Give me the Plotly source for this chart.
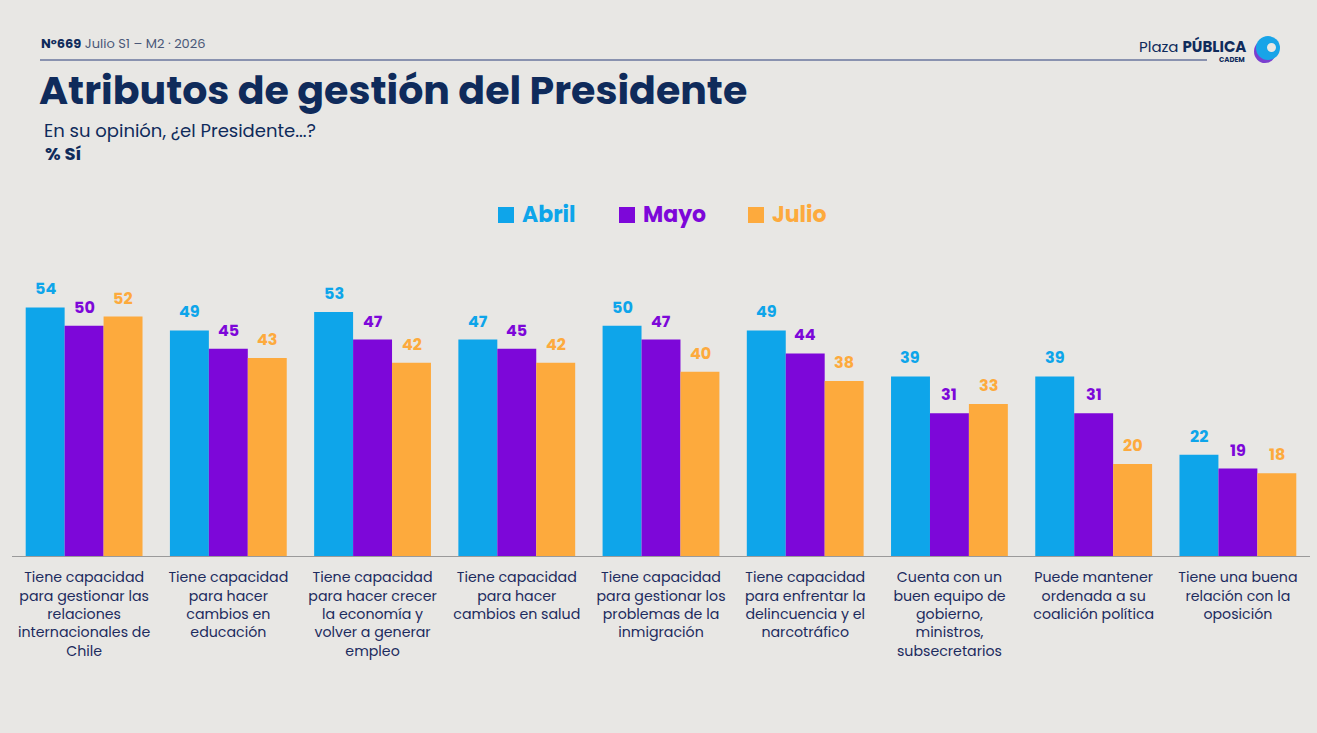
import plotly.graph_objects as go

categories = [
    "Tiene capacidad<br>para gestionar las<br>relaciones<br>internacionales de<br>Chile",
    "Tiene capacidad<br>para hacer<br>cambios en<br>educación",
    "Tiene capacidad<br>para hacer crecer<br>la economía y<br>volver a generar<br>empleo",
    "Tiene capacidad<br>para hacer<br>cambios en salud",
    "Tiene capacidad<br>para gestionar los<br>problemas de la<br>inmigración",
    "Tiene capacidad<br>para enfrentar la<br>delincuencia y el<br>narcotráfico",
    "Cuenta con un<br>buen equipo de<br>gobierno,<br>ministros,<br>subsecretarios",
    "Puede mantener<br>ordenada a su<br>coalición política",
    "Tiene una buena<br>relación con la<br>oposición",
]
series_names = ["Abril", "Mayo", "Julio"]
abril = [54, 49, 53, 47, 50, 49, 39, 39, 22]
mayo = [50, 45, 47, 45, 47, 44, 31, 31, 19]
julio = [52, 43, 42, 42, 40, 38, 33, 20, 18]

colors = ["#0ea5ea", "#7d07d9", "#fdaa3d"]
BG = "#e8e7e4"
NAVY = "#0f2b5b"
FONT = "Poppins, 'Open Sans', sans-serif"

W, H = 1317, 733
L, R, T, B = 12, 7, 277, 177
PW, PH = W - L - R, H - T - B

def px(x):
    return (x - L) / PW

def py(y):
    return (H - B - y) / PH

fig = go.Figure()
for name, vals, col in zip(series_names, [abril, mayo, julio], colors):
    fig.add_trace(go.Bar(x=categories, y=vals, name=name, marker_color=col,
                         marker_line_width=0, showlegend=False))

# value labels above bars
offsets = [-39, 0, 39]
for vals, col, off in zip([abril, mayo, julio], colors, offsets):
    for c, v in zip(categories, vals):
        fig.add_annotation(x=c, y=v, text=f"<b>{v}</b>", showarrow=False,
                           xshift=off, yshift=5, yanchor="bottom",
                           font=dict(family=FONT, size=16, color=col))

# custom legend
leg = [(498, "Abril"), (619, "Mayo"), (748, "Julio")]
for (x0, name), col in zip(leg, colors):
    fig.add_shape(type="rect", xref="paper", yref="paper",
                  x0=px(x0), x1=px(x0 + 16), y0=py(223), y1=py(207),
                  fillcolor=col, line_width=0)
    fig.add_annotation(xref="paper", yref="paper", x=px(x0 + 22), y=py(215),
                       text=f"<b>{name}</b>", showarrow=False, xanchor="left",
                       yanchor="middle", font=dict(family=FONT, size=22, color=col))

# header
fig.add_shape(type="line", xref="paper", yref="paper", x0=px(40), x1=px(1207),
              y0=py(60), y1=py(60), line=dict(color="#2a3f7a", width=1.2))
fig.add_annotation(xref="paper", yref="paper", x=px(39), y=py(43),
                   text="<b>N°669</b><span style='color:#4a5878'> Julio S1 – M2 · 2026</span>",
                   showarrow=False, xanchor="left", yanchor="middle",
                   font=dict(family=FONT, size=13, color=NAVY))
fig.add_annotation(xref="paper", yref="paper", x=px(38), y=py(90),
                   text="<b>Atributos de gestión del Presidente</b>", showarrow=False,
                   xanchor="left", yanchor="middle", borderpad=0,
                   font=dict(family=FONT, size=39.5, color=NAVY))
fig.add_annotation(xref="paper", yref="paper", x=px(43), y=py(130),
                   text="En su opinión, ¿el Presidente...?", showarrow=False,
                   xanchor="left", yanchor="middle", borderpad=0,
                   font=dict(family=FONT, size=18, color=NAVY))
fig.add_annotation(xref="paper", yref="paper", x=px(43), y=py(153),
                   text="<b>% Sí</b>", showarrow=False,
                   xanchor="left", yanchor="middle",
                   font=dict(family=FONT, size=18, color=NAVY))

# logo
fig.add_annotation(xref="paper", yref="paper", x=px(1247), y=py(46),
                   text="Plaza <b>PÚBLICA</b>", showarrow=False,
                   xanchor="right", yanchor="middle", borderpad=0,
                   font=dict(family=FONT, size=15, color=NAVY))
fig.add_annotation(xref="paper", yref="paper", x=px(1246), y=py(59),
                   text="<b>CADEM</b>", showarrow=False,
                   xanchor="right", yanchor="middle", borderpad=0,
                   font=dict(family=FONT, size=7, color=NAVY))
fig.add_shape(type="circle", xref="paper", yref="paper",
              x0=px(1254), x1=px(1276), y0=py(63), y1=py(40),
              fillcolor="#7a3fcf", line_width=0)
fig.add_shape(type="circle", xref="paper", yref="paper",
              x0=px(1256), x1=px(1280), y0=py(60), y1=py(36),
              fillcolor="#18a4e8", line_width=0)
fig.add_shape(type="circle", xref="paper", yref="paper",
              x0=px(1267), x1=px(1276), y0=py(52), y1=py(43),
              fillcolor=BG, line_width=0)

fig.update_layout(
    width=W, height=H,
    margin=dict(l=L, r=R, t=T, b=B, pad=0),
    paper_bgcolor=BG, plot_bgcolor=BG,
    barmode="group", bargap=0.19, bargroupgap=0,
    font=dict(family=FONT, color=NAVY),
    xaxis=dict(showline=True, linecolor="#9a9a9a", linewidth=1, ticks="",
               ticklabelstandoff=8,
               tickfont=dict(family=FONT, size=14.2, color="#1c2b5e"),
               showgrid=False, zeroline=False, fixedrange=True),
    yaxis=dict(range=[0, 60.6], visible=False, showgrid=False, zeroline=False,
               fixedrange=True),
)

fig.write_html("out.html")
